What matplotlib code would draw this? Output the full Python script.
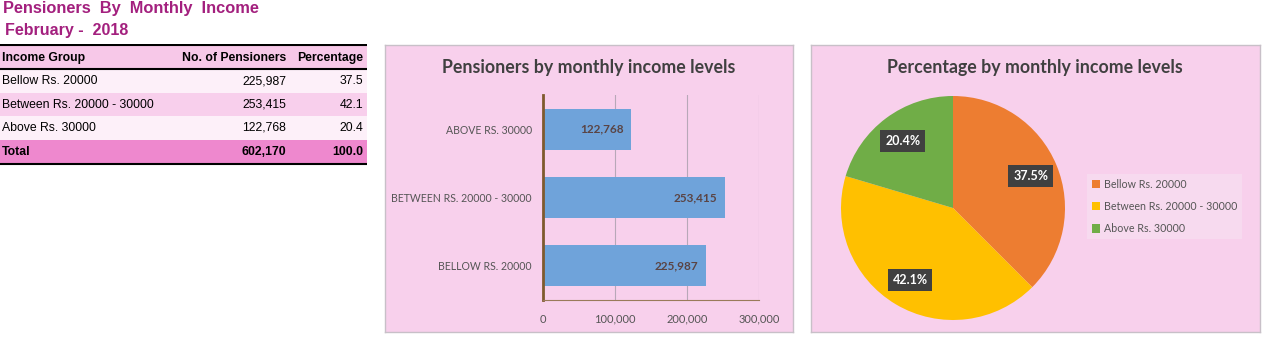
import matplotlib.pyplot as plt
from matplotlib.patches import Rectangle

# pensioners by monthly income, February 2018
groups = ['Bellow Rs. 20000', 'Between Rs. 20000 - 30000', 'Above Rs. 30000']
pensioners = [225987, 253415, 122768]
percentage = [37.5, 42.1, 20.4]
total_pensioners = 602170
total_percentage = 100.0
xticks = [0, 100000, 200000, 300000]

W, H = 1265, 340
PURPLE = '#A3207E'
PANEL = '#F8D0EC'
pie_colors = ['#ED7D31', '#FFC000', '#70AD47']

fig = plt.figure(figsize=(W / 100, H / 100), dpi=100)
fig.patch.set_facecolor('white')


def px_axes(x0, y0, x1, y1, **kw):
    # axes from pixel box (top-left origin)
    return fig.add_axes([x0 / W, 1 - y1 / H, (x1 - x0) / W, (y1 - y0) / H], **kw)


# ---- heading + table ----
fig.text(3 / W, 1 - 9 / H, 'Pensioners  By  Monthly  Income', color=PURPLE,
         fontsize=11.8, fontweight='bold', family='Liberation Sans', va='center')
fig.text(5 / W, 1 - 31 / H, 'February -  2018', color=PURPLE,
         fontsize=11.5, fontweight='bold', family='Liberation Sans', va='center')

tab = px_axes(0, 44, 367, 166)
tab.set_xlim(0, 367)
tab.set_ylim(166, 44)
tab.axis('off')

row_tops = [46, 69, 93, 116, 140]
row_h = [23, 24, 23, 24, 23]
row_bg = ['#F7C8E8', '#FDF0F9', '#F8CFEC', '#FDF0F9', '#EE88CE']
for top, h, c in zip(row_tops, row_h, row_bg):
    tab.add_patch(Rectangle((0, top), 367, h, facecolor=c, edgecolor='none'))
for y, lw in [(45, 1.5), (69, 1.5), (164, 1.5)]:
    tab.plot([0, 367], [y, y], color='black', lw=lw)

tf = dict(family='Liberation Sans', fontsize=8.8, va='center', color='black')
hdr = [('Income Group', 2, 'left'), ('No. of Pensioners', 286, 'right'),
       ('Percentage', 363, 'right')]
for txt, x, ha in hdr:
    tab.text(x, 58, txt, ha=ha, fontweight='bold', **tf)
for i, g in enumerate(groups):
    yc = row_tops[i + 1] + row_h[i + 1] / 2
    tab.text(2, yc, g, ha='left', **tf)
    tab.text(286, yc, f'{pensioners[i]:,}', ha='right', **tf)
    tab.text(363, yc, f'{percentage[i]:.1f}', ha='right', **tf)
tab.text(2, 152, 'Total', ha='left', fontweight='bold', **tf)
tab.text(286, 152, f'{total_pensioners:,}', ha='right', fontweight='bold', **tf)
tab.text(363, 152, f'{total_percentage:.1f}', ha='right', fontweight='bold', **tf)

# ---- panel backgrounds ----
for x0, x1 in [(385, 793), (811, 1260)]:
    bg = px_axes(x0, 45, x1, 332)
    bg.set_facecolor(PANEL)
    bg.set_xticks([])
    bg.set_yticks([])
    for s in bg.spines.values():
        s.set_color('#C8C0C8')
        s.set_linewidth(1)
    bg.set_zorder(0)

# ---- bar chart ----
bx = px_axes(543, 95, 759, 300)
bx.set_zorder(1)
bx.patch.set_alpha(0)
ypos = range(len(groups))
bx.barh(ypos, pensioners, height=0.6, color='#6FA3DA', zorder=2)
bx.set_xlim(0, 300000)
bx.set_ylim(-0.5, 2.5)
bx.set_xticks(xticks)
bx.set_xticklabels([f'{v:,}' for v in xticks])
bx.set_yticks(list(ypos))
bx.set_yticklabels([g.upper() for g in groups])
bx.tick_params(length=0, labelcolor='#555555')
bx.tick_params(axis='y', labelsize=7.6, pad=8)
bx.tick_params(axis='x', labelsize=8, pad=10)
for lab in bx.get_xticklabels() + bx.get_yticklabels():
    lab.set_family('Lato')
bx.grid(axis='x', color='#B8A8B8', lw=0.8, zorder=1)
bx.set_axisbelow(True)
for s in ['top', 'right']:
    bx.spines[s].set_visible(False)
bx.spines['left'].set_color('#7F5A2E')
bx.spines['left'].set_linewidth(2)
bx.spines['bottom'].set_color('#9A7A5A')
bx.spines['bottom'].set_linewidth(0.8)
for y, v in zip(ypos, pensioners):
    bx.text(v - 11000, y, f'{v:,}', ha='right', va='center', fontsize=8.5,
            fontweight='bold', color='#5A4444', family='Lato', zorder=3)
fig.text(589 / W, 1 - 68 / H, 'Pensioners by monthly income levels',
         ha='center', va='center', fontsize=12.8, fontweight='bold',
         color='#404040', family='Lato')

# ---- pie chart ----
r = 112
px = px_axes(953 - r, 208 - r, 953 + r, 208 + r)
px.set_zorder(1)
wedges, _, autotexts = px.pie(percentage, colors=pie_colors, startangle=90,
                              counterclock=False, radius=1,
                              autopct='%.1f%%', pctdistance=0.75)
for t in autotexts:
    t.set_color('white')
    t.set_fontweight('bold')
    t.set_fontsize(9)
    t.set_family('Lato')
    t.set_bbox(dict(facecolor='#404040', edgecolor='none', pad=3.5))
px.set_xlim(-1, 1)
px.set_ylim(-1, 1)
px.set_aspect('equal')
px.axis('off')

leg = fig.legend(wedges, groups, loc='upper left',
                 bbox_to_anchor=(1087 / W, 1 - 174 / H), borderaxespad=0,
                 frameon=True, fancybox=False, handlelength=0.8,
                 handleheight=0.8, handletextpad=0.3, labelspacing=1.05,
                 borderpad=0.45, prop={'family': 'Lato', 'size': 7.7})
leg.get_frame().set_facecolor('#F7DDF0')
leg.get_frame().set_edgecolor('none')
for t in leg.get_texts():
    t.set_color('#555555')

fig.text(1035 / W, 1 - 68 / H, 'Percentage by monthly income levels',
         ha='center', va='center', fontsize=12.8, fontweight='bold',
         color='#404040', family='Lato')

fig.savefig('out.png', dpi=100, facecolor=fig.get_facecolor())
